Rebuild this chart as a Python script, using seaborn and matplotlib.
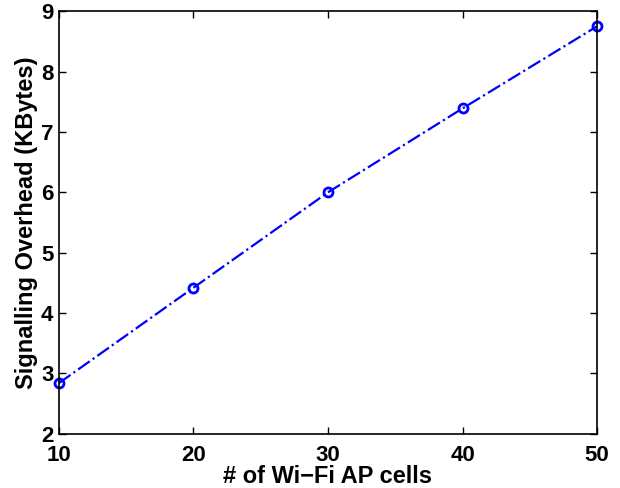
import matplotlib
matplotlib.use("Agg")
import matplotlib.pyplot as plt
import seaborn as sns
import pandas as pd

cells = [10, 20, 30, 40, 50]
overhead = [2.84, 4.42, 6.0, 7.39, 8.75]
xticks = [10, 20, 30, 40, 50]
yticks = [2, 3, 4, 5, 6, 7, 8, 9]

sns.set_theme(style="white")
plt.rcParams['font.family'] = ['Liberation Sans', 'DejaVu Sans']
plt.rcParams['font.weight'] = 'bold'

df = pd.DataFrame({"cells": cells, "overhead": overhead})

fig = plt.figure(figsize=(6.2, 4.88), dpi=100)
ax = fig.add_axes([0.095, 0.111, 0.868, 0.866])
sns.lineplot(data=df, x="cells", y="overhead", ax=ax, color="#0000ff",
             linestyle="-.", linewidth=1.6, marker="o", markersize=6.5,
             markerfacecolor="none", markeredgecolor="#0000ff", markeredgewidth=2,
             clip_on=False)
ax.set_xlim(10, 50)
ax.set_ylim(2, 9)
ax.set_xticks(xticks)
ax.set_yticks(yticks)
ax.tick_params(direction="in", length=5, width=1, labelsize=16, colors="black",
               top=True, right=True, bottom=True, left=True)
ax.tick_params(axis="x", pad=8)
ax.tick_params(axis="y", pad=4)
for lab in ax.get_xticklabels() + ax.get_yticklabels():
    lab.set_fontweight("bold")
for s in ax.spines.values():
    s.set_color("black")
    s.set_linewidth(1.2)
ax.set_xlabel("# of Wi\u2212Fi AP cells", fontsize=17, fontweight="bold",
              color="black", labelpad=-1)
ax.set_ylabel("Signalling Overhead (KBytes)", fontsize=17, fontweight="bold",
              color="black", labelpad=2)
fig.savefig("out.png", dpi=100)
